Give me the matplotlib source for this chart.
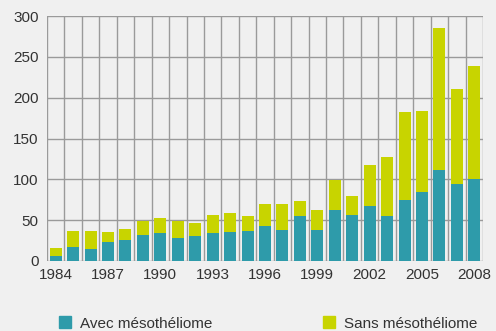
import numpy as np
import matplotlib
matplotlib.use("Agg")
import matplotlib.pyplot as plt
from matplotlib.patches import Patch

# ── data ─────────────────────────────────────────────────────────────────────
years = list(range(1984, 2009))
avec = [6, 17, 15, 23, 26, 32, 34, 28, 31, 34, 36, 37, 43, 38, 55,
        38, 62, 56, 67, 55, 75, 85, 111, 94, 101]
total = [16, 37, 37, 36, 39, 49, 53, 49, 47, 56, 59, 55, 70, 70, 73,
         63, 99, 80, 117, 127, 182, 184, 285, 210, 239]
sans = [t - a for t, a in zip(total, avec)]

TEAL = "#2E9BAA"
LIME = "#C8D400"
BG = "#F0F0F0"
GRID = "#9A9A9A"
TXT = "#333333"

plt.rcParams["font.family"] = ["Liberation Sans", "DejaVu Sans"]

fig = plt.figure(figsize=(4.96, 3.31), dpi=100, facecolor=BG)
ax = fig.add_axes([47 / 496, 70 / 331, 436 / 496, 245 / 331], facecolor=BG)

x = np.arange(len(years))
ax.bar(x, avec, width=0.69, color=TEAL, zorder=3)
ax.bar(x, sans, bottom=avec, width=0.69, color=LIME, zorder=3)

ax.set_xlim(-0.5, len(years) - 0.5)
ax.set_ylim(0, 300)
ax.set_yticks(range(0, 301, 50))
ax.set_xticks(x[::3])
ax.set_xticklabels([str(y) for y in years[::3]])
ax.set_xticks(np.arange(-0.5, len(years)), minor=True)

ax.grid(axis="y", which="major", color=GRID, lw=1, zorder=0)
ax.grid(axis="x", which="minor", color=GRID, lw=1, zorder=0)
for s in ax.spines.values():
    s.set_visible(False)
ax.tick_params(which="both", length=0, labelsize=11, colors=TXT)
ax.tick_params(axis="y", pad=6)
ax.tick_params(axis="x", pad=5)

# legend: two entries placed apart at the bottom
kw = dict(frameon=False, loc="center left", fontsize=11, handlelength=0.8,
          handleheight=0.8, handletextpad=0.6, borderpad=0, borderaxespad=0,
          labelcolor=TXT)
fig.legend(handles=[Patch(color=TEAL, label="Avec mésothéliome")],
           bbox_to_anchor=(59 / 496, 7.5 / 331), **kw)
fig.legend(handles=[Patch(color=LIME, label="Sans mésothéliome")],
           bbox_to_anchor=(323 / 496, 7.5 / 331), **kw)

fig.savefig("out.png", dpi=100, facecolor=BG)
